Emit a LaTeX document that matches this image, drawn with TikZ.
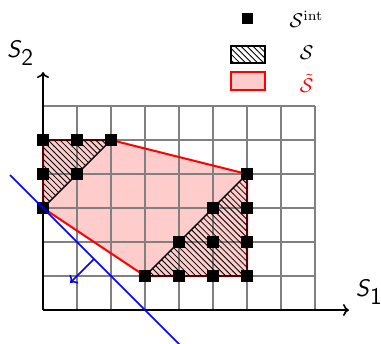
\documentclass[tikz,border=0pt]{standalone}
\usetikzlibrary{patterns,arrows.meta}
\begin{document}
\begin{tikzpicture}[x=0.6cm,y=0.6cm,
  pt/.style={fill=black,inner sep=0pt,minimum size=5.5pt},
  gridline/.style={gray,line width=0.8pt},
  axis/.style={black,line width=0.8pt,-{To[length=3pt,width=6pt]}},
  stilde/.style={fill=red!20},
  sedge/.style={red,line width=1pt},
  hatch/.style={pattern=north west lines},
  tri/.style={black,line width=0.7pt,line join=round},
  cut/.style={blue,line width=0.8pt},
  lbl/.style={inner sep=0pt}]
\useasboundingbox (-1.265,-0.97) rectangle (9.94,9.118);

% S tilde fill
\fill[stilde] (0,3) -- (0,5) -- (2,5) -- (6,4) -- (6,1) -- (3,1) -- cycle;
% grid
\draw[gridline,step=0.6cm] (0,0) grid (8,6);
% axes
\coordinate (O) at (0,0);
\coordinate (X) at (9,0);
\coordinate (Y) at (0,7);
\draw[axis] (O) -- (X);
\draw[axis] (O) -- (Y);
\node[lbl] (s1) at (9.6,0.53) {\large\textsf{\textit{S}}$_{\textsf{1}}$};
\node[lbl] (s2) at (-0.66,7.55) {\large\textsf{\textit{S}}$_{\textsf{2}}$};

% points
\node[pt] (p1) at (0,5) {};
\node[pt] (p2) at (1,5) {};
\node[pt] (p3) at (2,5) {};
\node[pt] (p4) at (0,4) {};
\node[pt] (p5) at (1,4) {};
\node[pt] (p6) at (0,3) {};
\node[pt] (q1) at (3,1) {};
\node[pt] (q2) at (4,1) {};
\node[pt] (q3) at (5,1) {};
\node[pt] (q4) at (6,1) {};
\node[pt] (q5) at (4,2) {};
\node[pt] (q6) at (5,2) {};
\node[pt] (q7) at (6,2) {};
\node[pt] (q8) at (5,3) {};
\node[pt] (q9) at (6,3) {};
\node[pt] (q10) at (6,4) {};

% S tilde edges
\draw[sedge,line join=round] (p6.center) -- (p1.center) -- (p3.center) -- (q10.center) -- (q4.center) -- (q1.center) -- cycle;
% hatched triangles
\fill[hatch] (p6.center) -- (p1.center) -- (p3.center) -- cycle;
\fill[hatch] (q1.center) -- (q4.center) -- (q10.center) -- cycle;
\draw[tri] (p6.center) -- (p1.center) -- (p3.center) -- cycle;
\draw[tri] (q1.center) -- (q4.center) -- (q10.center) -- cycle;
% redraw points on top
\foreach \n in {p1,p2,p3,p4,p5,p6,q1,q2,q3,q4,q5,q6,q7,q8,q9,q10}
  \fill (\n.south west) rectangle (\n.north east);

% cutting line and normal
\coordinate (l1) at (-0.97,3.97);
\coordinate (l2) at (4.2,-1.2);
\draw[cut] (l1) -- (l2);
\coordinate (ns) at (1.5,1.5);
\coordinate (ne) at (0.8,0.8);
\draw[cut,-{To[length=3pt,width=6pt]}] (ns) -- (ne);

% legend
\node[pt] (lgpt) at (6.0,8.57) {};
\node[lbl] (lgint) at (7.75,8.55) {$\mathcal{S}^{\mathrm{int}}$};
\draw[black,line width=0.8pt,hatch] (5.53,7.27) rectangle (6.53,7.77);
\node[lbl] (lgs) at (7.75,7.58) {$\mathcal{S}$};
\draw[red,line width=0.8pt,fill=red!20] (5.53,6.47) rectangle (6.53,7.0);
\node[lbl,red] (lgt) at (7.75,6.66) {$\tilde{\mathcal{S}}$};
\end{tikzpicture}
\end{document}
